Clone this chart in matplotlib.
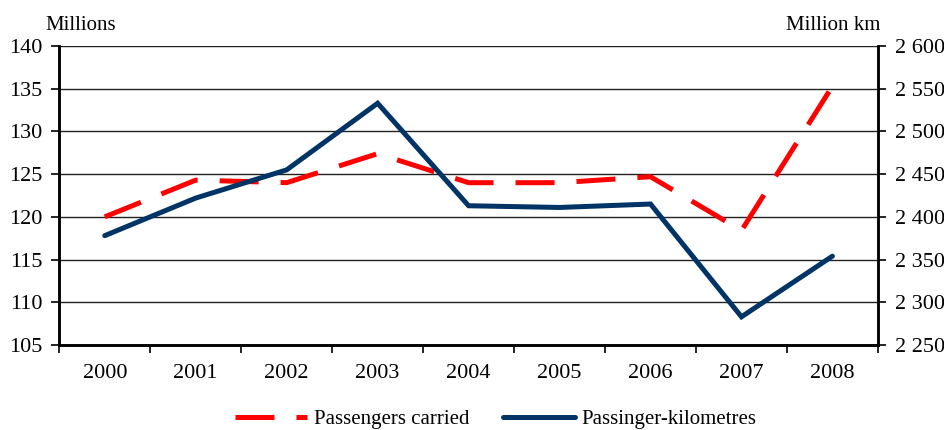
import matplotlib.pyplot as plt
from matplotlib.ticker import FuncFormatter

# Data
years = ['2000', '2001', '2002', '2003', '2004', '2005', '2006', '2007', '2008']
passengers = [120.0, 124.3, 124.0, 127.4, 124.0, 124.0, 124.7, 118.4, 135.3]  # millions
pass_km = [2378, 2422, 2455, 2533, 2413, 2411, 2415, 2283, 2354]  # million km

left_ticks = [105, 110, 115, 120, 125, 130, 135, 140]
right_ticks = [2250, 2300, 2350, 2400, 2450, 2500, 2550, 2600]

red = '#ff0000'
navy = '#003366'

plt.rcParams['font.family'] = ['Liberation Serif', 'DejaVu Serif']
plt.rcParams['font.size'] = 15

fig = plt.figure(figsize=(9.44, 4.30), dpi=100)
ax = fig.add_axes([0.0628, 0.1977, 0.8672, 0.6953])
ax2 = ax.twinx()

x = list(range(len(years)))

# gridlines at every left-axis tick
for v in left_ticks:
    ax.axhline(v, color='#222222', lw=1.0, zorder=0)

l1, = ax.plot(x, passengers, color=red, lw=3.6, dashes=(7.8, 4.4),
              solid_capstyle='butt', dash_capstyle='butt', zorder=3,
              label='Passengers carried')
l2, = ax2.plot(x, pass_km, color=navy, lw=3.6, solid_joinstyle='miter',
               solid_capstyle='round', zorder=3, label='Passinger-kilometres')

ax.set_xlim(-0.5, len(years) - 0.5)
ax.set_ylim(105, 140)
ax2.set_ylim(2250, 2600)
ax.set_yticks(left_ticks)
ax2.set_yticks(right_ticks)
ax2.yaxis.set_major_formatter(FuncFormatter(lambda v, p: f'{int(v):,}'.replace(',', ' ')))

ax.set_xticks(x)
ax.set_xticklabels(years)
ax.set_xticks([i - 0.5 for i in range(len(years) + 1)], minor=True)
ax.tick_params(axis='x', which='major', length=0, pad=14, labelsize=16)
ax.tick_params(axis='x', which='minor', length=6, width=1.2, direction='out')
ax.tick_params(axis='y', length=6, width=1.2, direction='out', pad=6, labelsize=16)
ax2.tick_params(axis='y', length=6, width=1.2, direction='out', pad=6, labelsize=16)

for a in (ax, ax2):
    a.spines['top'].set_visible(False)
    for s in ('left', 'right', 'bottom'):
        a.spines[s].set_linewidth(1.8)
        a.spines[s].set_color('black')
ax.patch.set_visible(False)

fig.text(45 / 944, 1 - 25 / 430, 'Millions', ha='left', va='center', fontsize=15)
fig.text(880 / 944, 1 - 25 / 430, 'Million km', ha='right', va='center', fontsize=15)

fig.legend([l1, l2], ['Passengers carried', 'Passinger-kilometres'],
           loc='center', bbox_to_anchor=(0.525, 0.025), ncol=2, frameon=False,
           handlelength=3.5, handletextpad=0.3, columnspacing=1.6, fontsize=15)

fig.savefig('out.png', dpi=100)
